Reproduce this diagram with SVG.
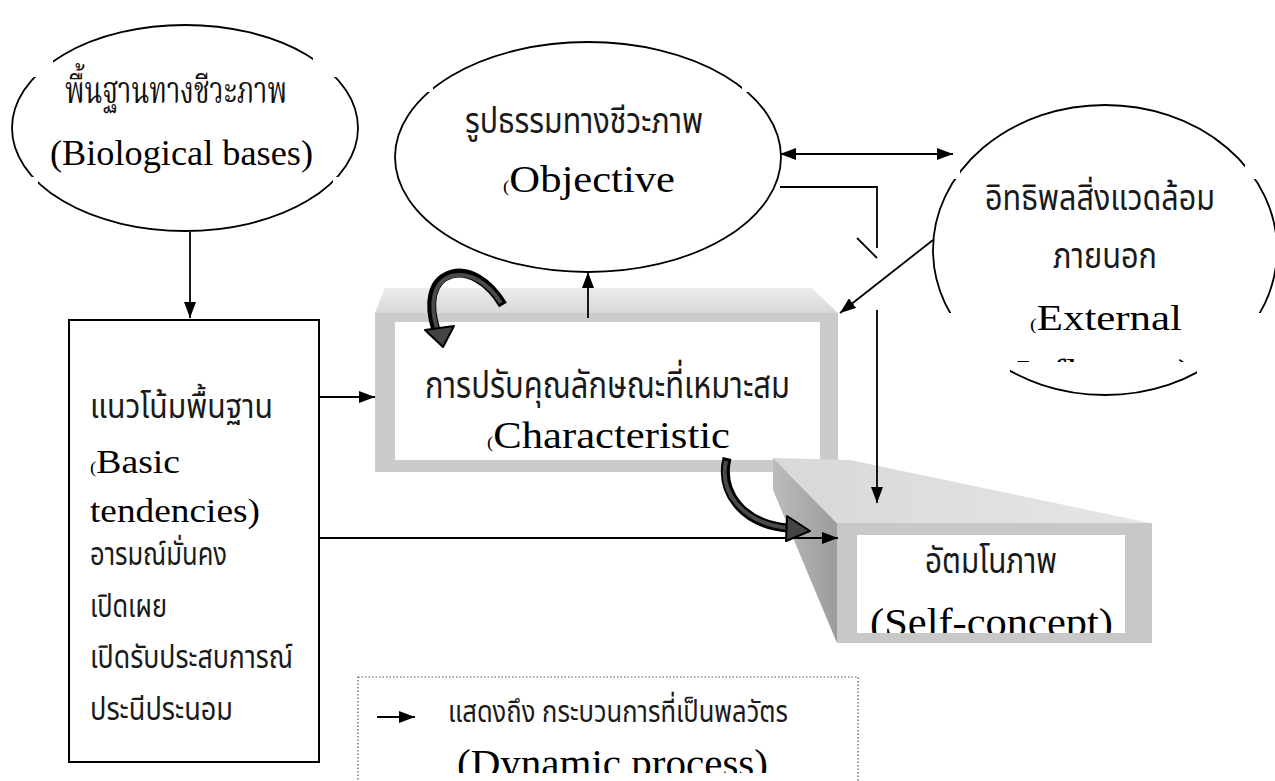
<svg xmlns="http://www.w3.org/2000/svg" width="1275" height="781" viewBox="0 0 1275 781">
<style>
.ln{stroke:#000;stroke-width:1.8;fill:none}
.el{stroke:#000;stroke-width:1.8;fill:none}
.lat{font-family:"Liberation Serif","Times New Roman",serif;fill:#000}
.th{font-family:"Noto Sans Thai","Loma","Garuda","Tlwg Typo","Noto Sans",sans-serif;fill:#1a1a1a}
.ths{font-family:"Noto Serif Thai","Norasi","Noto Sans Thai",serif;fill:#111}
.sp{font-size:17px}
.cshaft{stroke:#000;stroke-width:9;fill:none}
.cin{stroke:#4a4a4a;stroke-width:4;fill:none}
.chead{fill:#444;stroke:#000;stroke-width:2;stroke-linejoin:round}
</style>
<defs>
<marker id="ah" markerWidth="16" markerHeight="12" refX="16" refY="6" orient="auto-start-reverse" markerUnits="userSpaceOnUse"><path d="M0,0 L16,6 L0,12 z" fill="#000"/></marker>
<clipPath id="c1"><rect x="53" y="0" width="260" height="128"/><rect x="38" y="128" width="295" height="140"/><rect x="0" y="77" width="400" height="100"/></clipPath>
<clipPath id="c2"><rect x="433" y="0" width="309" height="160"/><rect x="0" y="92" width="1275" height="300"/></clipPath>
<clipPath id="c3"><rect x="960" y="0" width="285" height="250"/><rect x="1010" y="250" width="187" height="250"/><rect x="900" y="179" width="375" height="134"/></clipPath>
<clipPath id="cInf"><rect x="900" y="300" width="375" height="62"/></clipPath>
<clipPath id="cSelf"><rect x="857" y="535" width="268" height="98"/></clipPath>
<clipPath id="cDyn"><rect x="358" y="677" width="500" height="96"/></clipPath>
<linearGradient id="gTop" x1="0" y1="0" x2="0" y2="1"><stop offset="0" stop-color="#ececec"/><stop offset="1" stop-color="#d8d8d8"/></linearGradient>
<linearGradient id="gSide" x1="0" y1="0" x2="1" y2="0"><stop offset="0" stop-color="#bcbcbc"/><stop offset="1" stop-color="#9c9c9c"/></linearGradient>
<linearGradient id="gTop2" x1="0" y1="0" x2="1" y2="0"><stop offset="0" stop-color="#d8d8d8"/><stop offset="1" stop-color="#e6e6e6"/></linearGradient>
</defs>
<rect width="1275" height="781" fill="#fff"/>

<g id="node-biological">
<ellipse class="el" cx="185" cy="128" rx="173" ry="103" clip-path="url(#c1)"/>
<text class="ths" x="65" y="103" font-size="38" textLength="222" lengthAdjust="spacingAndGlyphs">พื้นฐานทางชีวะภาพ</text>
<text class="lat" x="50" y="165" font-size="36" textLength="263" lengthAdjust="spacingAndGlyphs">(Biological bases)</text>
</g>

<g id="node-objective">
<ellipse class="el" cx="588" cy="157" rx="193" ry="115" clip-path="url(#c2)"/>
<text class="th" x="465" y="133" font-size="35" textLength="238" lengthAdjust="spacingAndGlyphs">รูปธรรมทางชีวะภาพ</text>
<text class="lat" x="503" y="192" font-size="38" textLength="172" lengthAdjust="spacingAndGlyphs"><tspan class="sp">(</tspan>Objective</text>
</g>

<g id="node-external">
<ellipse class="el" cx="1105" cy="250" rx="172" ry="145" clip-path="url(#c3)"/>
<text class="th" x="985" y="210" font-size="35" textLength="230" lengthAdjust="spacingAndGlyphs">อิทธิพลสิ่งแวดล้อม</text>
<text class="th" x="1053" y="268" font-size="35" textLength="104" lengthAdjust="spacingAndGlyphs">ภายนอก</text>
<text class="lat" x="1030" y="330" font-size="36" textLength="152" lengthAdjust="spacingAndGlyphs"><tspan class="sp">(</tspan>External</text>
<text class="lat" x="1010" y="387" font-size="40" textLength="182" lengthAdjust="spacingAndGlyphs" clip-path="url(#cInf)"><tspan class="sp">(</tspan>Influence)</text>
</g>

<g id="node-characteristic">
<polygon points="385,288 812,288 838,313 375,313" fill="url(#gTop)"/>
<rect x="375" y="313" width="463" height="159" fill="#cbcbcb"/>
<rect x="395" y="322" width="425" height="138" fill="#fff"/>
<text class="th" x="425" y="398" font-size="38" textLength="365" lengthAdjust="spacingAndGlyphs">การปรับคุณลักษณะที่เหมาะสม</text>
<text class="lat" x="487" y="448" font-size="38" textLength="243" lengthAdjust="spacingAndGlyphs"><tspan class="sp">(</tspan>Characteristic</text>
</g>

<g id="node-basic">
<rect x="69" y="320" width="250" height="442" fill="#fff" stroke="#000" stroke-width="2"/>
<text class="th" x="90" y="418" font-size="34" textLength="183" lengthAdjust="spacingAndGlyphs">แนวโน้มพื้นฐาน</text>
<text class="lat" x="90" y="473" font-size="34" textLength="90" lengthAdjust="spacingAndGlyphs"><tspan class="sp">(</tspan>Basic</text>
<text class="lat" x="90" y="522" font-size="34" textLength="170" lengthAdjust="spacingAndGlyphs">tendencies)</text>
<text class="th" x="90" y="565" font-size="32" textLength="137" lengthAdjust="spacingAndGlyphs">อารมณ์มั่นคง</text>
<text class="th" x="90" y="617" font-size="32" textLength="77" lengthAdjust="spacingAndGlyphs">เปิดเผย</text>
<text class="th" x="90" y="668" font-size="32" textLength="203" lengthAdjust="spacingAndGlyphs">เปิดรับประสบการณ์</text>
<text class="th" x="90" y="720" font-size="32" textLength="143" lengthAdjust="spacingAndGlyphs">ประนีประนอม</text>
</g>

<g id="node-self">
<polygon points="773,458 837,523 837,643 773,490" fill="url(#gSide)"/>
<polygon points="773,458 850,460 1150,523 837,523" fill="url(#gTop2)"/>
<rect x="837" y="523" width="315" height="120" fill="#c8c8c8"/>
<rect x="857" y="535" width="268" height="98" fill="#fff"/>
<text class="th" x="925" y="573" font-size="35" textLength="132" lengthAdjust="spacingAndGlyphs">อัตมโนภาพ</text>
<text class="lat" x="870" y="636" font-size="40" textLength="243" lengthAdjust="spacingAndGlyphs" clip-path="url(#cSelf)">(Self-concept)</text>
</g>

<g id="legend">
<rect x="358" y="677" width="500" height="120" fill="none" stroke="#555" stroke-width="1.2" stroke-dasharray="1.5,2"/>
<line class="ln" x1="377" y1="717" x2="415" y2="717" marker-end="url(#ah)"/>
<text class="th" x="448" y="722" font-size="30" textLength="340" lengthAdjust="spacingAndGlyphs">แสดงถึง กระบวนการที่เป็นพลวัตร</text>
<text class="lat" x="457" y="777" font-size="40" textLength="311" lengthAdjust="spacingAndGlyphs" clip-path="url(#cDyn)">(Dynamic process)</text>
</g>

<g id="connectors">
<line class="ln" x1="190" y1="232" x2="190" y2="318" marker-end="url(#ah)"/>
<line class="ln" x1="319" y1="397" x2="375" y2="397" marker-end="url(#ah)"/>
<line class="ln" x1="319" y1="538" x2="838" y2="538" marker-end="url(#ah)"/>
<line class="ln" x1="588" y1="318" x2="588" y2="272" marker-end="url(#ah)"/>
<line class="ln" x1="780" y1="154" x2="953" y2="154" marker-start="url(#ah)" marker-end="url(#ah)"/>
<polyline class="ln" points="780,187 877,187 877,248"/>
<line class="ln" x1="857" y1="238" x2="877" y2="258"/>
<line class="ln" x1="877" y1="310" x2="877" y2="503" marker-end="url(#ah)"/>
<line class="ln" x1="933" y1="240" x2="840" y2="313" marker-end="url(#ah)"/>
<path class="cshaft" d="M503,305 C488,280 468,270 452,274 C430,280 428,305 436,330"/>
<path class="cin" d="M501,303 C487,281 468,272 452,276 C432,282 430,305 437,329"/>
<polygon class="chead" points="425,330 454,326 443,347"/>
<path class="cshaft" d="M727,458 C719,492 742,524 788,528"/>
<path class="cin" d="M726,461 C719,492 742,523 788,528"/>
<polygon class="chead" points="787,516 810,531 786,541"/>
</g>
</svg>
